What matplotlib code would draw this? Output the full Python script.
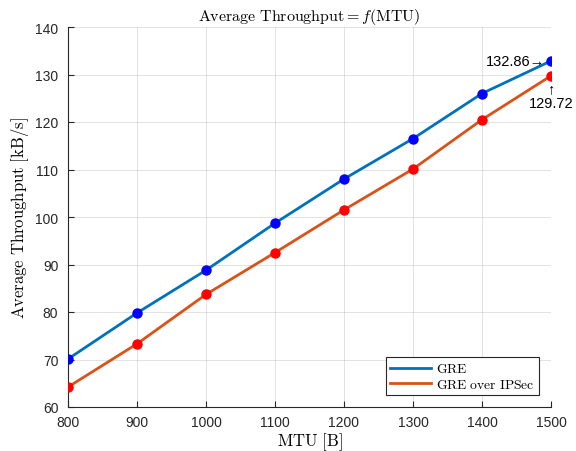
import matplotlib
matplotlib.use('Agg')
import matplotlib.pyplot as plt

# data
mtu = [800, 900, 1000, 1100, 1200, 1300, 1400, 1500]
gre = [70.1, 79.8, 88.8, 98.7, 108.0, 116.5, 126.0, 132.86]
gre_ipsec = [64.2, 73.3, 83.7, 92.5, 101.5, 110.1, 120.5, 129.72]
x_ticks = [800, 900, 1000, 1100, 1200, 1300, 1400, 1500]
y_ticks = [60, 70, 80, 90, 100, 110, 120, 130, 140]

plt.rcParams['font.family'] = ['Liberation Sans', 'DejaVu Sans']
plt.rcParams['mathtext.fontset'] = 'cm'

axis_col = (0.15, 0.15, 0.15)

fig = plt.figure(figsize=(5.76, 4.52), dpi=100)
ax = fig.add_axes([68 / 576, 44 / 452, 483 / 576, 380 / 452])

ax.plot(mtu, gre, color=(0, 0.447, 0.741), linewidth=2, zorder=3, label='GRE')
ax.plot(mtu, gre_ipsec, color=(0.85, 0.325, 0.098), linewidth=2, zorder=3, label='GRE over IPSec')
ax.plot(mtu, gre, 'o', color='blue', markersize=6.5, zorder=4)
ax.plot(mtu, gre_ipsec, 'o', color='red', markersize=6.5, zorder=4)

ax.set_xlim(800, 1500)
ax.set_ylim(60, 140)
ax.set_xticks(x_ticks)
ax.set_yticks(y_ticks)
ax.tick_params(direction='in', length=4, width=0.8, colors=axis_col, labelsize=10,
               top=False, right=False)
ax.tick_params(axis='x', pad=6)
ax.tick_params(axis='y', pad=7)
for s in ['top', 'right']:
    ax.spines[s].set_visible(False)
for s in ['left', 'bottom']:
    ax.spines[s].set_color(axis_col)
    ax.spines[s].set_linewidth(0.8)
ax.grid(True, color=axis_col, alpha=0.15, linewidth=0.6)
ax.set_axisbelow(True)

ax.set_title(r'$\mathrm{Average\ Throughput} = f(\mathrm{MTU})$', fontsize=11.5, pad=5)
ax.set_xlabel(r'$\mathrm{MTU\ [B]}$', fontsize=12, labelpad=1)
ax.set_ylabel(r'$\mathrm{Average\ Throughput\ [kB/s]}$', fontsize=12, labelpad=3)

# value annotations at the last point
ax.text(mtu[-1] - 8, gre[-1], '%.2f\u2192' % gre[-1], ha='right', va='center',
        fontsize=10.5, color='black')
ax.text(mtu[-1], gre_ipsec[-1] - 1.2, '\u2191\n%.2f' % gre_ipsec[-1], ha='center', va='top',
        fontsize=10.5, color='black', linespacing=1.0)

leg = ax.legend(loc='lower right', frameon=True, fancybox=False,
                edgecolor=axis_col, framealpha=1, borderaxespad=0.9, handlelength=3.0,
                handletextpad=0.4, borderpad=0.3, labelspacing=0.1,
                prop={'family': 'serif', 'size': 9.8})
leg.get_frame().set_linewidth(0.8)
for t in leg.get_texts():
    t.set_text(r'$\mathrm{%s}$' % t.get_text().replace(' ', r'\ '))

fig.savefig('out.png', dpi=100)
